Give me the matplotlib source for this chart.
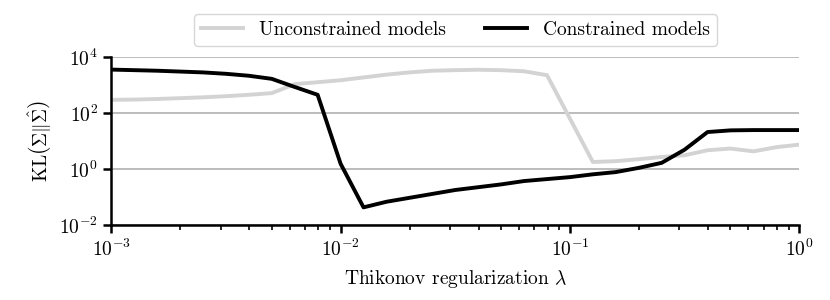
import numpy as np
import matplotlib
matplotlib.use("Agg")
import matplotlib.pyplot as plt
from matplotlib.ticker import FixedLocator, NullLocator

plt.rcParams['font.family'] = 'serif'
plt.rcParams['font.serif'] = ['cmr10']
plt.rcParams['mathtext.fontset'] = 'cm'
plt.rcParams['axes.formatter.use_mathtext'] = True
plt.rcParams['axes.unicode_minus'] = False
plt.rcParams['font.size'] = 14

# regularization grid, 10^(k/10) for k = -30..0
lam = [1.0e-3, 1.259e-3, 1.585e-3, 1.995e-3, 2.512e-3, 3.162e-3, 3.981e-3, 5.012e-3,
       6.310e-3, 7.943e-3, 1.0e-2, 1.259e-2, 1.585e-2, 1.995e-2, 2.512e-2, 3.162e-2,
       3.981e-2, 5.012e-2, 6.310e-2, 7.943e-2, 1.0e-1, 1.259e-1, 1.585e-1, 1.995e-1,
       2.512e-1, 3.162e-1, 3.981e-1, 5.012e-1, 6.310e-1, 7.943e-1, 1.0]

# log10 of KL values
log_unconstrained = [2.47, 2.48, 2.50, 2.53, 2.56, 2.60, 2.65, 2.71, 3.03, 3.10, 3.17,
                     3.27, 3.37, 3.45, 3.51, 3.53, 3.545, 3.53, 3.49, 3.35, 1.80,
                     0.25, 0.28, 0.35, 0.43, 0.49, 0.67, 0.73, 0.63, 0.78, 0.87]
log_constrained = [3.55, 3.53, 3.51, 3.48, 3.45, 3.40, 3.33, 3.22, 2.93, 2.65, 0.19,
                   -1.37, -1.17, -1.03, -0.89, -0.75, -0.65, -0.55, -0.43, -0.36, -0.29,
                   -0.19, -0.11, 0.04, 0.22, 0.69, 1.32, 1.38, 1.39, 1.39, 1.39]

unconstrained = 10 ** np.array(log_unconstrained)
constrained = 10 ** np.array(log_constrained)

fig = plt.figure(figsize=(8.3, 3.0), dpi=100)
ax = fig.add_axes([0.134, 0.25, 0.829, 0.56])

ax.plot(lam, unconstrained, color='#d3d3d3', lw=2.8, label='Unconstrained models')
ax.plot(lam, constrained, color='black', lw=2.8, label='Constrained models')

ax.set_xscale('log')
ax.set_yscale('log')
ax.set_xlim(1e-3, 1)
ax.set_ylim(1e-2, 1e4)
ax.yaxis.set_major_locator(FixedLocator([1e-2, 1e0, 1e2, 1e4]))
ax.yaxis.set_minor_locator(NullLocator())
ax.grid(axis='y', color='#b0b0b0', lw=1.2)
ax.set_axisbelow(True)

for s in ['top', 'right']:
    ax.spines[s].set_visible(False)
for s in ['left', 'bottom']:
    ax.spines[s].set_linewidth(1.8)
ax.tick_params(which='major', length=6, width=1.8)
ax.tick_params(which='minor', length=3.5, width=1.2)

ax.set_xlabel(r'Thikonov regularization $\lambda$', labelpad=6)
ax.set_ylabel(r'KL$\left(\boldsymbol{\Sigma}\|\hat{\boldsymbol{\Sigma}}\right)$')

ax.legend(loc='lower center', bbox_to_anchor=(0.5, 1.01), ncol=2, frameon=True,
          edgecolor='#cccccc', fancybox=True, handlelength=2.2, columnspacing=2.0,
          borderpad=0.35)

fig.savefig('out.png', dpi=100)
